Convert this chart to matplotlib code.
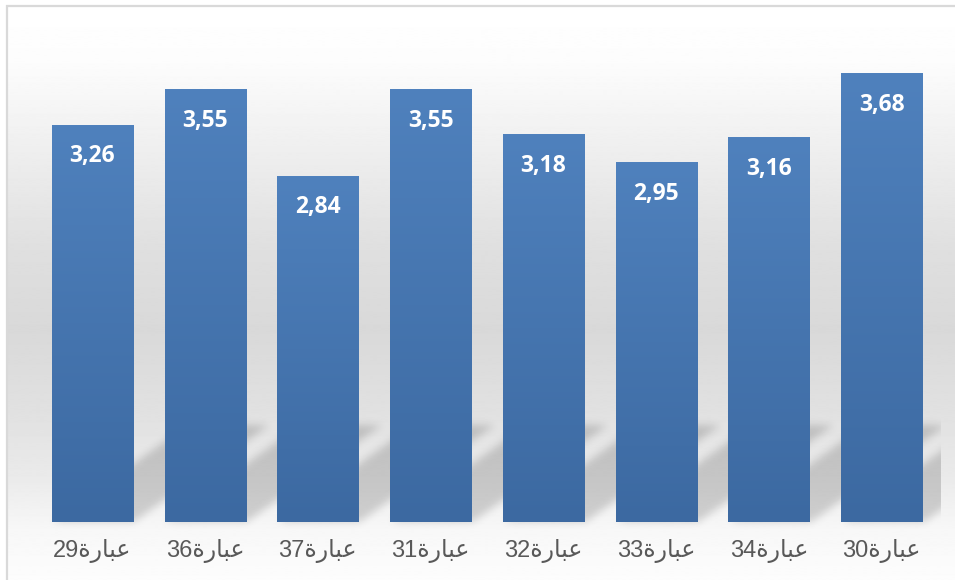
import numpy as np
import matplotlib.pyplot as plt
from matplotlib.colors import LinearSegmentedColormap

# statement numbers and mean scores
items = ['29', '36', '37', '31', '32', '33', '34', '30']
scores = [3.26, 3.55, 2.84, 3.55, 3.18, 2.95, 3.16, 3.68]

# "عبارة" written with presentation forms in visual (left to right) order,
# since matplotlib does no Arabic shaping itself
WORD = '\ufe93\ufead\ufe8e\ufe92\ufecb'
labels = [n + WORD for n in items]

W, H = 955, 580
fig = plt.figure(figsize=(W / 100, H / 100), dpi=100)
fig.patch.set_facecolor('white')

# full-figure axes in pixel units for the background, frame and shadows
bg = fig.add_axes([0, 0, 1, 1])
bg.set_xlim(0, W)
bg.set_ylim(H, 0)
bg.axis('off')

# soft grey vertical gradient
stops_y = [6, 60, 150, 250, 330, 420, 480, 530, 580]
stops_g = [1.0, 0.99, 0.935, 0.875, 0.85, 0.885, 0.92, 0.97, 0.99]
rows = np.interp(np.linspace(6, H, H), stops_y, stops_g)
bg.imshow(rows[:, None], cmap='gray', vmin=0, vmax=1, extent=(7, W, H, 6),
          aspect='auto', interpolation='bilinear', zorder=0)

# chart frame (top and left edges only fall inside the image)
bg.plot([6.5, 6.5], [5, H], color='#d9d9d9', lw=1.6, zorder=3, solid_capstyle='butt')
bg.plot([6, W], [5.5, 5.5], color='#d9d9d9', lw=1.6, zorder=3, solid_capstyle='butt')

ax = fig.add_axes([36 / W, 58 / H, 902 / W, 487 / H])
x = np.arange(len(items))
bars = ax.bar(x, scores, width=0.72, color='none', edgecolor='none', zorder=2)
ax.set_xlim(-0.5, len(items) - 0.5)
ax.set_ylim(0, 4)
ax.patch.set_alpha(0)
for s in ax.spines.values():
    s.set_visible(False)
ax.set_yticks([])

# perspective shadow cast up and to the right from each bar's base
mask = np.zeros((H, W))
shadow_h, skew = 97, 1.39
for b in bars:
    (x0, y0), (x1, _) = ax.transData.transform(
        [(b.get_x(), 0), (b.get_x() + b.get_width(), 0)])
    base = H - y0
    for r in range(int(base - shadow_h), int(base)):
        off = (base - r) * skew
        c0, c1 = int(round(x0 + off)), int(round(x1 + off))
        mask[r, max(c0, 0):min(c1, W)] = 1.0

sig = 4.0
k = np.exp(-0.5 * (np.arange(-13, 14) / sig) ** 2)
k /= k.sum()
mask = np.apply_along_axis(lambda m: np.convolve(m, k, mode='same'), 0, mask)
mask = np.apply_along_axis(lambda m: np.convolve(m, k, mode='same'), 1, mask)
right_px = int(ax.transAxes.transform((1, 0))[0]) + 2
mask[:, right_px:] = 0
shadow = np.zeros((H, W, 4))
shadow[..., 3] = 0.16 * mask
bg.imshow(shadow, extent=(0, W, H, 0), aspect='auto', zorder=1)

# bar fills: blue gradient, lighter at the top
bar_cmap = LinearSegmentedColormap.from_list('bar', ['#4f81bd', '#3c69a1'])
for b in bars:
    bx, bw, bh = b.get_x(), b.get_width(), b.get_height()
    ax.imshow(np.linspace(0, 1, 256)[:, None], cmap=bar_cmap,
              extent=(bx, bx + bw, 0, bh), aspect='auto', zorder=2)
ax.set_xlim(-0.5, len(items) - 0.5)
ax.set_ylim(0, 4)

for xi, v in zip(x, scores):
    ax.annotate(f'{v:.2f}'.replace('.', ','), (xi, v), xytext=(0, -22.5),
                textcoords='offset points', ha='center', va='center',
                color='white', fontsize=16.5, fontweight='bold',
                family='Open Sans', zorder=4)

ax.set_xticks(x, labels)
ax.tick_params(axis='x', length=0, pad=12, labelsize=17, labelcolor='#595959')
for t in ax.get_xticklabels():
    t.set_fontfamily(['Liberation Sans', 'DejaVu Sans'])

fig.savefig('out.png', dpi=100)
